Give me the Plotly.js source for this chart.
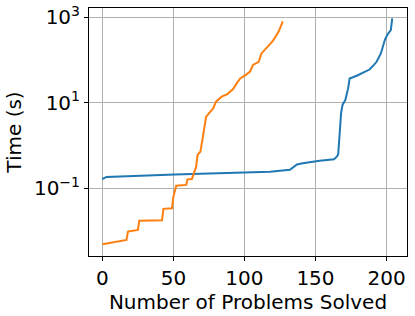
<!DOCTYPE html>
<html>
<head>
<meta charset="utf-8">
<script src="https://cdn.plot.ly/plotly-3.0.1.min.js"></script>
<style>html,body{margin:0;padding:0;background:#fff;}#chart{width:415px;height:316px;}</style>
</head>
<body>
<div id="chart"></div>
<script>
// Orange series (problems solved vs time)
const orangeX = [0, 17, 18, 25, 26, 42, 43, 49, 50, 51, 52, 59, 60, 63, 64, 66, 67, 69, 71, 73, 76, 78, 80, 84, 88, 90, 92, 95, 97, 101, 104, 106, 110, 112, 115, 118, 120, 124, 127];
const orangeY = [0.0049, 0.0062, 0.0097, 0.0106, 0.0175, 0.0178, 0.033, 0.034, 0.064, 0.085, 0.115, 0.12, 0.162, 0.165, 0.21, 0.32, 0.60, 0.72, 1.8, 4.7, 6.2, 7.4, 10.6, 13.9, 16, 18, 21, 30, 37, 45, 54, 77, 91, 143, 188, 245, 282, 457, 805];
// Blue series
const blueX = [0, 3, 51, 72, 100, 118, 132, 134, 137, 141, 146, 153, 163, 165, 166, 167, 168, 169, 170, 171, 173, 174, 179, 184, 188, 191, 193, 196, 199, 201, 203, 204];
const blueY = [0.165, 0.184, 0.21, 0.22, 0.23, 0.245, 0.27, 0.30, 0.36, 0.385, 0.41, 0.44, 0.48, 0.55, 0.63, 2.76, 5.7, 8.9, 10, 11.6, 22, 37, 43, 52, 60, 76, 91, 143, 310, 410, 500, 950];
// Axis ticks
const xTicks = [0, 50, 100, 150, 200];
const yTickVals = [0.1, 10, 1000];
const yTickText = ['10<sup>\u22121</sup>', '10<sup>1</sup>', '10<sup>3</sup>'];
const xTitle = 'Number of Problems Solved';
const yTitle = 'Time (s)';

const font = {family: 'DejaVu Sans', size: 20, color: '#000'};

const traces = [
  {x: blueX, y: blueY, type: 'scatter', mode: 'lines', line: {color: '#1f77b4', width: 2}, hoverinfo: 'skip'},
  {x: orangeX, y: orangeY, type: 'scatter', mode: 'lines', line: {color: '#ff7f0e', width: 2}, hoverinfo: 'skip'}
];

const layout = {
  width: 415, height: 316,
  margin: {l: 89, r: 8, t: 8, b: 60},
  paper_bgcolor: '#fff', plot_bgcolor: '#fff',
  showlegend: false,
  font: font,
  xaxis: {
    range: [-9.4, 214.4],
    tickvals: xTicks,
    ticks: 'outside', ticklen: 4, tickcolor: '#000', tickwidth: 1,
    showline: true, linecolor: '#000', linewidth: 1, mirror: true,
    showgrid: true, gridcolor: '#b0b0b0', gridwidth: 1,
    zeroline: false,
    tickfont: font,
    title: {text: xTitle, font: font, standoff: 0}
  },
  yaxis: {
    type: 'log',
    range: [-2.584, 3.218],
    tickvals: yTickVals, ticktext: yTickText,
    ticks: 'outside', ticklen: 4, tickcolor: '#000', tickwidth: 1,
    showline: true, linecolor: '#000', linewidth: 1, mirror: true,
    showgrid: true, gridcolor: '#b0b0b0', gridwidth: 1,
    zeroline: false,
    tickfont: font,
    title: {text: yTitle, font: font, standoff: 6}
  }
};

Plotly.newPlot('chart', traces, layout, {staticPlot: true, displayModeBar: false});
</script>
</body>
</html>
